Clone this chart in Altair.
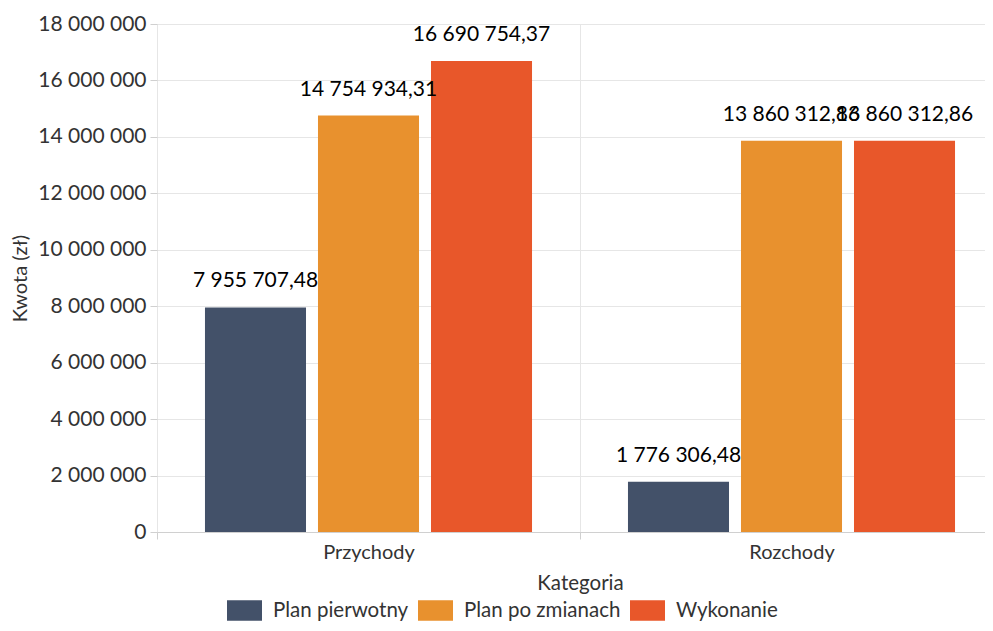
import altair as alt
import pandas as pd

categories = ["Przychody", "Rozchody"]
series = ["Plan pierwotny", "Plan po zmianach", "Wykonanie"]
plan_pierwotny = [7955707.48, 1776306.48]
plan_po_zmianach = [14754934.31, 13860312.86]
wykonanie = [16690754.37, 13860312.86]
colors = ["#435169", "#e8912e", "#e8572a"]

def fmt(v):
    s = f"{v:,.2f}"
    return s.replace(",", " ").replace(".", ",")

rows = []
for vals, s in zip([plan_pierwotny, plan_po_zmianach, wykonanie], series):
    for c, v in zip(categories, vals):
        rows.append({"Kategoria": c, "Seria": s, "Kwota": v, "Etykieta": fmt(v)})
df = pd.DataFrame(rows)

FONT = "Lato"
TXT = "#333333"

x = alt.X("Kategoria:N", title="Kategoria", sort=categories,
          scale=alt.Scale(paddingInner=0, paddingOuter=0, range=[0, 846]),
          axis=alt.Axis(labelAngle=0, tickBand="extent", grid=True, gridColor="#e6e6e6",
                        domainColor="#d0d0d0", tickColor="#d0d0d0", tickSize=7,
                        labelFontSize=20, labelColor=TXT, labelPadding=3,
                        titleFontSize=20.5, titleColor=TXT, titleFontWeight="normal",
                        titleBaseline="middle", titleY=51, titleX=423,
                        labelFont=FONT, titleFont=FONT))
xo = alt.XOffset("Seria:N", sort=series,
                 scale=alt.Scale(paddingInner=0.106, paddingOuter=0.4245))
y = alt.Y("Kwota:Q", title="Kwota (zł)",
          scale=alt.Scale(domain=[0, 18000000], nice=False),
          axis=alt.Axis(values=list(range(0, 18000001, 2000000)),
                        labelExpr="replace(format(datum.value, ','), /,/g, ' ')",
                        gridColor="#e6e6e6", domain=False, tickColor="#d0d0d0", tickSize=7,
                        labelFontSize=21, labelColor=TXT, labelPadding=4,
                        titleFontSize=20, titleColor=TXT, titleFontWeight="normal",
                        titleAngle=270, titleAlign="center", titleBaseline="middle",
                        titleX=-137, titleY=254,
                        labelFont=FONT, titleFont=FONT))
color = alt.Color("Seria:N", sort=series, title=None,
                  scale=alt.Scale(domain=series, range=colors),
                  legend=alt.Legend(orient="none", legendX=70, legendY=569, direction="horizontal",
                                    symbolType="M-1,-0.58H1V0.58H-1Z", symbolSize=1225,
                                    symbolStrokeWidth=0, symbolOpacity=1,
                                    labelFontSize=20.5, labelColor=TXT, labelFont=FONT,
                                    columnPadding=9, labelOffset=11, padding=0))

bars = alt.Chart(df).mark_bar().encode(x=x, xOffset=xo, y=y, color=color)
labels = alt.Chart(df).mark_text(dy=-26, fontSize=21, font=FONT, color="#000000",
                                 baseline="middle").encode(
    x=x, xOffset=xo, y=y, text="Etykieta:N")

chart = (bars + labels).properties(
    width=828, height=508,
    autosize=alt.AutoSizeParams(type="none"),
    padding={"left": 149, "top": 16, "right": 0, "bottom": 91},
).configure_view(stroke=None).configure(font=FONT)

chart.save("out.html", embed_options={"renderer": "svg", "actions": False})
